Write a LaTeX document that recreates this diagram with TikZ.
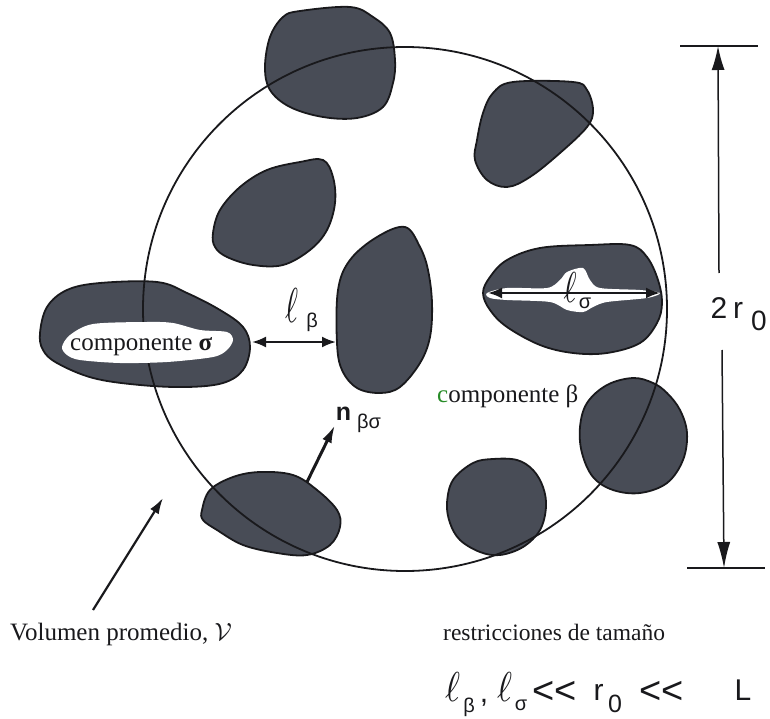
\documentclass[tikz,border=0pt]{standalone}
\usepackage{fontspec}
\usepackage{graphicx}
\setmainfont{Liberation Serif}
\newfontfamily\sansf{Liberation Sans}
\usetikzlibrary{arrows.meta}
\definecolor{blobfill}{RGB}{72,76,86}
\definecolor{ink}{RGB}{25,25,28}
\definecolor{cgreen}{RGB}{40,140,40}
\begin{document}
\begin{tikzpicture}[x=1pt,y=-1pt,
  blob/.style={fill=blobfill,draw=ink,line width=1.8pt},
  hole/.style={fill=white,draw=none},
  ring/.style={draw=ink,line width=1.8pt},
  dimline/.style={draw=ink,line width=1.5pt},
  serif/.style={font=\fontsize{25}{29}\selectfont,inner sep=0pt,anchor=base west,text=ink},
  sanslbl/.style={font=\sansf\fontsize{30}{34}\selectfont,inner sep=0pt,text=ink},
  ltlbl/.style={font=\sansf\fontsize{38}{42}\selectfont,inner sep=0pt,text=ink},
  subsans/.style={font=\sansf\fontsize{20}{24}\selectfont,inner sep=0pt,text=ink},
  ellbox/.style={inner sep=0pt,text=ink},
  dblarrow/.style={draw=ink,line width=2.2pt,{Latex[length=14pt,width=11pt]}-{Latex[length=14pt,width=11pt]}}
]
\useasboundingbox (0,0) rectangle (770,719);

% blobs
\draw[blob] plot[smooth cycle,tension=0.6] coordinates {(265,67) (270,37) (283,17) (300,11) (350,7) (373,17) (390,33) (395,60) (393,83) (383,107) (357,118) (323,117) (290,107) (270,90)};
\draw[blob] plot[smooth cycle,tension=0.6] coordinates {(493,93) (513,82) (573,82) (587,90) (593,110) (587,127) (560,153) (530,177) (507,187) (487,180) (475,160) (477,140) (483,113)};
\draw[blob] plot[smooth cycle,tension=0.6] coordinates {(213,233) (220,210) (240,187) (267,170) (300,162) (323,160) (333,177) (335,203) (327,230) (310,250) (283,265) (253,265) (227,257) (215,247)};
\draw[blob] plot[smooth cycle,tension=0.6] coordinates {(337,343) (338,290) (350,260) (377,237) (405,227) (420,247) (428,270) (432,303) (430,337) (420,363) (400,387) (380,393) (357,388) (342,370)};
\draw[blob] plot[smooth cycle,tension=0.6] coordinates {(40,333) (47,307) (67,290) (100,283) (157,282) (187,293) (220,310) (243,327) (250,347) (243,370) (223,383) (187,387) (140,385) (93,378) (57,363) (43,350)};
\draw[blob] plot[smooth cycle,tension=0.6] coordinates {(483,293) (490,277) (507,260) (540,248) (590,245) (630,245) (647,257) (658,280) (662,303) (657,323) (640,343) (607,353) (573,353) (540,345) (507,327) (490,310)};
\draw[blob] plot[smooth cycle,tension=0.6] coordinates {(580,427) (587,403) (607,385) (633,378) (653,383) (667,393) (680,410) (687,433) (683,460) (667,483) (640,493) (613,490) (593,477) (582,453)};
\draw[blob] plot[smooth cycle,tension=0.6] coordinates {(447,503) (453,480) (473,463) (493,459) (517,460) (533,470) (543,487) (546,507) (540,530) (523,547) (500,555) (480,552) (460,540) (450,523)};
\draw[blob] plot[smooth cycle,tension=0.6] coordinates {(202,510) (210,490) (233,477) (260,472) (293,475) (317,490) (337,510) (340,527) (330,545) (307,555) (277,553) (243,545) (217,530) (203,520)};

% averaging volume
\draw[ring] (405,309) circle[radius=262];

% white regions of sigma phase
\fill[hole] plot[smooth cycle,tension=0.5] coordinates {(62,347) (70,335) (93,324) (147,322) (173,323) (200,330) (227,332) (233,340) (227,350) (213,357) (167,362) (120,363) (80,360) (67,355)};
\fill[hole] plot[smooth cycle,tension=0.5] coordinates {(487,293) (507,288) (547,288) (560,280) (567,272) (583,268) (590,280) (600,288) (640,290) (660,293) (647,298) (607,302) (593,307) (583,312) (567,310) (550,302) (507,300) (490,298)};

% labels inside
\node[serif] (csig) at (70,350) {componente {\bfseries σ}};
\node[serif] (cbeta) at (437,402) {{\color{cgreen}c}omponente β};

% l_beta
\coordinate (lbA) at (252,342);
\coordinate (lbB) at (336,342);
\draw[dblarrow] (lbA) -- (lbB);
\node[ellbox] (ellb) at (291.5,305) {\resizebox{13pt}{34pt}{$\ell$}};
\node[subsans] (betab) at (312,322) {β};

% l_sigma
\coordinate (lsA) at (488,293);
\coordinate (lsB) at (660,293);
\draw[dblarrow,line width=2.4pt] (lsA) -- (lsB);
\node[ellbox] (ells) at (570,287) {\resizebox{13pt}{30pt}{$\ell$}};
\node[subsans] (sigs) at (585,303) {σ};

% normal vector
\coordinate (nA) at (307,482);
\coordinate (nB) at (335,425);
\draw[draw=ink,line width=3pt,-{Latex[length=18pt,width=10pt]}] (nA) -- (nB);
\node[font=\sansf\bfseries\fontsize{25}{29}\selectfont,inner sep=0pt,anchor=base,text=ink] (nlbl) at (343.5,420) {n};
\node[subsans,anchor=base west] (nsub) at (357,428) {βσ};

% averaging volume label
\coordinate (vA) at (93,610);
\coordinate (vB) at (163,498);
\draw[draw=ink,line width=2.2pt,-{Latex[length=16pt,width=10pt]}] (vA) -- (vB);
\node[serif] (vol) at (10,640) {Volumen promedio, $\mathcal{V}$};

% dimension 2 r0
\coordinate (tL) at (680,46);
\coordinate (tR) at (758,46);
\coordinate (bL) at (687,568);
\coordinate (bR) at (765,568);
\draw[dimline] (tL) -- (tR);
\draw[dimline] (bL) -- (bR);
\coordinate (gT) at (719,273);
\coordinate (gB) at (722,350);
\coordinate (aT) at (718,46);
\coordinate (aB) at (724,568);
\draw[draw=ink,line width=1.5pt,-{Latex[length=24pt,width=13pt]}] (gT) -- (aT);
\draw[draw=ink,line width=1.5pt,-{Latex[length=26pt,width=13pt]}] (gB) -- (aB);
\node[sanslbl,anchor=base] (two) at (719,318) {2};
\node[sanslbl,anchor=base west] (rr) at (733,318) {r};
\node[font=\sansf\fontsize{28}{32}\selectfont,inner sep=0pt,anchor=base west,text=ink] (rz) at (751,330) {0};

% size constraints
\node[serif,font=\fontsize{23.5}{28}\selectfont] (restr) at (443,640) {restricciones de tamaño};
\node[ellbox,anchor=south] (f1) at (452.5,702) {\resizebox{15pt}{29pt}{$\ell$}};
\node[subsans,anchor=base] (f2) at (469,712) {β};
\node[sanslbl,anchor=base] (f3) at (484,702) {,};
\node[ellbox,anchor=south] (f4) at (504.5,702) {\resizebox{15pt}{29pt}{$\ell$}};
\node[subsans,anchor=base] (f5) at (521,710) {σ};
\node[ltlbl,anchor=base] (f6) at (554.5,703) {<<};
\node[sanslbl,anchor=base] (f7) at (598.5,700) {r};
\node[font=\sansf\fontsize{25}{29}\selectfont,inner sep=0pt,anchor=base,text=ink] (f8) at (615,712) {0};
\node[ltlbl,anchor=base] (f9) at (661.5,703) {<<};
\node[sanslbl,anchor=base] (f10) at (743,700) {L};
\end{tikzpicture}
\end{document}
